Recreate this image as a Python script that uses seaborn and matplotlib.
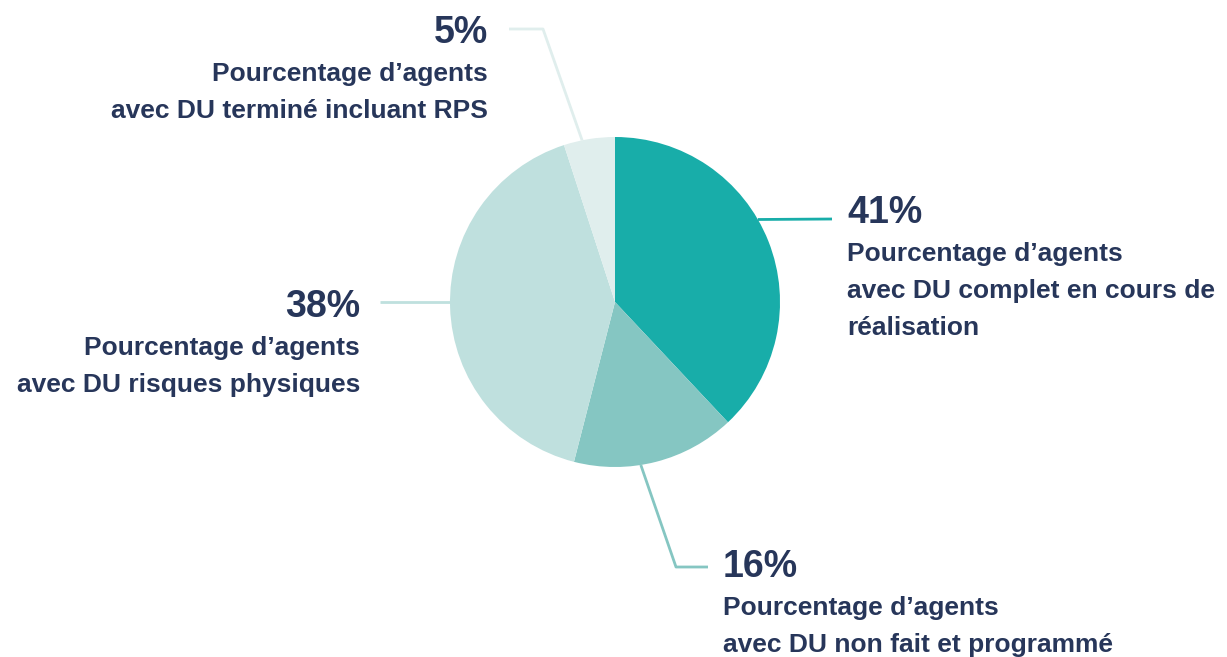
import numpy as np
import matplotlib
matplotlib.use("Agg")
import matplotlib.pyplot as plt
import seaborn as sns

# Slice sizes as drawn (clockwise from 12 o'clock)
shares = [38, 16, 41, 5]
pct_labels = ["41%", "16%", "38%", "5%"]
descriptions = [
    "Pourcentage d\u2019agents\navec DU complet en cours de\nr\u00e9alisation",
    "Pourcentage d\u2019agents\navec DU non fait et programm\u00e9",
    "Pourcentage d\u2019agents\navec DU risques physiques",
    "Pourcentage d\u2019agents\navec DU termin\u00e9 incluant RPS",
]
colors = ["#18ada9", "#85c6c2", "#bfe0de", "#e0eeed"]

TEXT = "#27365a"

sns.set_theme(style="white")
plt.rcParams["font.family"] = ["Liberation Sans", "DejaVu Sans"]

fig = plt.figure(figsize=(12.27, 6.57), dpi=100)
ax = fig.add_axes([0, 0, 1, 1])

cx, cy, r = 615, 302, 165
# y axis is inverted below, so startangle=-90 + counterclock is clockwise from top
ax.pie(shares, colors=colors, startangle=-90, counterclock=True,
       center=(cx, cy), radius=r, wedgeprops=dict(linewidth=0))

ax.set_xlim(0, 1227)
ax.set_ylim(657, 0)
ax.set_aspect("equal")
ax.axis("off")


def edge(angle_deg):
    # angle measured clockwise from top, in screen terms
    a = np.deg2rad(angle_deg)
    return cx + r * np.sin(a), cy - r * np.cos(a)


# leader lines: anchor angle on the circle, then elbow points
leaders = [
    (60, [(832, 219)]),
    (171, [(676, 567), (708, 567)]),
    (270, [(380, 302)]),
    (348.5, [(543, 29), (509, 29)]),
]
for (ang, pts), col in zip(leaders, colors):
    x0, y0 = edge(ang)
    xs = [x0] + [p[0] for p in pts]
    ys = [y0] + [p[1] for p in pts]
    ax.plot(xs, ys, color=col, lw=2, solid_capstyle="butt")

# label blocks: x, first baseline, alignment
blocks = [
    (847, 223, "left"),
    (723, 577, "left"),
    (360, 317, "right"),
    (488, 43, "right"),
]
for (x, y, ha), pct, desc in zip(blocks, pct_labels, descriptions):
    ax.text(x, y, pct, ha=ha, va="baseline", fontsize=27,
            fontweight="bold", color=TEXT)
    for i, line in enumerate(desc.split("\n")):
        ax.text(x, y + 38 + 37 * i, line, ha=ha, va="baseline",
                fontsize=19, fontweight="bold", color=TEXT)

fig.savefig("out.png", dpi=100, facecolor="white")
